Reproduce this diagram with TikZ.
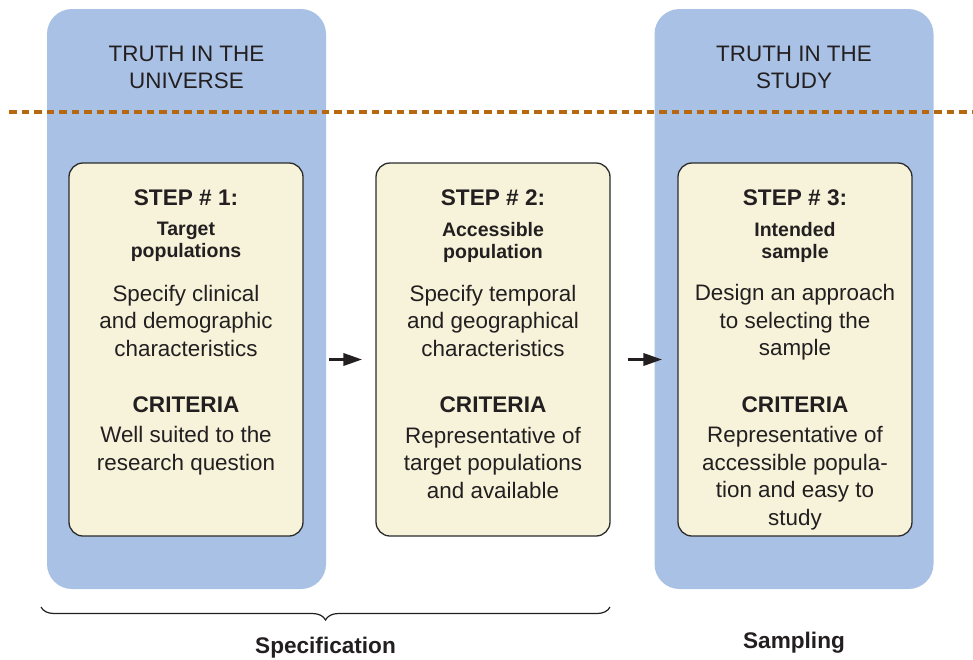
\documentclass[tikz,border=0pt]{standalone}
\usepackage{fontspec}
\usepackage{tikz}
\usetikzlibrary{arrows.meta,decorations.pathreplacing}
\setmainfont{Liberation Sans}
\definecolor{panelblue}{HTML}{A9C1E5}
\definecolor{boxfill}{HTML}{F6F3DA}
\definecolor{boxline}{HTML}{2B2B2B}
\definecolor{inkgray}{HTML}{231F20}
\definecolor{dotorange}{HTML}{B5680F}
\newcommand{\bodytext}{\fontsize{22.4pt}{27.5pt}\selectfont}
\newcommand{\steptext}{\fontsize{22.6pt}{27.5pt}\selectfont\bfseries}
\newcommand{\subtext}{\fontsize{19.5pt}{22pt}\selectfont\bfseries}

\begin{document}
\begin{tikzpicture}[x=1pt, y=-1pt,
  panel/.style={fill=panelblue, rounded corners=25pt, minimum width=279pt, minimum height=580pt, inner sep=0pt},
  stepbox/.style={draw=boxline, fill=boxfill, line width=1.3pt, rounded corners=14pt, minimum width=234pt, minimum height=373pt, inner sep=0pt},
  label/.style={text=inkgray, align=center, inner sep=0pt},
  flowarrow/.style={inkgray, line width=3.5pt, -{Triangle[length=19pt,width=12pt]}}]
\useasboundingbox (0,0) rectangle (973,659);

\node[panel](universe) at (186.5,299) {};
\node[panel](study) at (794,299) {};

\node[label, font=\bodytext](universetitle) at (186.5,67.5) {TRUTH IN THE\\UNIVERSE};
\node[label, font=\bodytext](studytitle) at (794,67.5) {TRUTH IN THE\\STUDY};

\coordinate (dotstart) at (9,112);
\coordinate (dotend) at (973,112);
\draw[dotorange, line width=4.5pt, dash pattern=on 7.5pt off 5pt] (dotstart) -- (dotend);

\node[stepbox](target) at (186,349.5) {};
\node[stepbox](accessible) at (493,349.5) {};
\node[stepbox](intended) at (795,349.5) {};

% step 1
\node[label, font=\steptext](target1) at (186,198) {STEP \# 1:};
\node[label, font=\subtext](target2) at (186,242) {Target\\populations};
\node[label, font=\bodytext](target3) at (186,320.5) {Specify clinical\\and demographic\\characteristics};
\node[label, font=\steptext](target4) at (186,405) {CRITERIA};
\node[label, font=\bodytext](target5) at (186,450.5) {Well suited to the\\research question};

% step 2
\node[label, font=\steptext](accessible1) at (493,198) {STEP \# 2:};
\node[label, font=\subtext](accessible2) at (493,242) {Accessible\\population};
\node[label, font=\bodytext](accessible3) at (493,320.5) {Specify temporal\\and geographical\\characteristics};
\node[label, font=\steptext](accessible4) at (493,405) {CRITERIA};
\node[label, font=\bodytext](accessible5) at (493,462.5) {Representative of\\target populations\\and available};

% step 3
\node[label, font=\steptext](intended1) at (795,198) {STEP \# 3:};
\node[label, font=\subtext](intended2) at (795,242) {Intended\\sample};
\node[label, font=\bodytext](intended3) at (795,322.5) {Design an approach\\to selecting the\\sample};
\node[label, font=\steptext](intended4) at (795,405) {CRITERIA};
\node[label, font=\bodytext](intended5) at (795,478) {Representative of\\accessible popula-\\tion and easy to\\study};

\draw[flowarrow, shorten <=25pt, shorten >=13pt]
  ([yshift=-10pt]target.east) -- ([yshift=-10pt]accessible.west);
\draw[flowarrow, shorten <=17pt, shorten >=15pt]
  ([yshift=-10pt]accessible.east) -- ([yshift=-10pt]intended.west);

\coordinate (braceleft) at (41,607);
\coordinate (braceright) at (610,607);
\draw[inkgray, line width=1.2pt, decorate, decoration={brace, mirror, amplitude=13pt}] (braceleft) -- (braceright);

\node[label, font=\steptext](specification) at (325.5,648) {Specification};
\node[label, font=\steptext](sampling) at (794,643) {Sampling};
\end{tikzpicture}
\end{document}
